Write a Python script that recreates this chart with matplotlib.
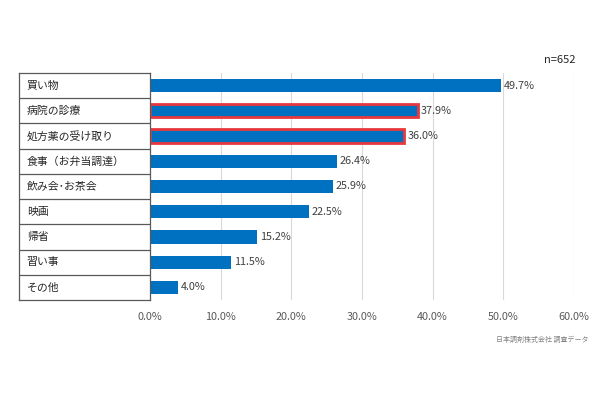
import matplotlib
matplotlib.use("Agg")
import matplotlib.pyplot as plt

plt.rcParams['font.family'] = ['Noto Sans CJK JP', 'DejaVu Sans']

# データ
categories = ['買い物', '病院の診療', '処方薬の受け取り', '食事（お弁当調達）',
              '飲み会･お茶会', '映画', '帰省', '習い事', 'その他']
values = [49.7, 37.9, 36.0, 26.4, 25.9, 22.5, 15.2, 11.5, 4.0]
highlight = [False, True, True, False, False, False, False, False, False]
xticks = [0, 10, 20, 30, 40, 50, 60]

fig = plt.figure(figsize=(6, 3.99), dpi=100)
ax = fig.add_axes([150 / 600, 1 - 300 / 399, 424 / 600, 227 / 399])
tab = fig.add_axes([19 / 600, 1 - 300 / 399, 131 / 600, 227 / 399])

n = len(categories)
ypos = list(range(n))

# 棒グラフ
for y, v, h in zip(ypos, values, highlight):
    ax.barh(y, v, height=0.52, color='#0070C0',
            edgecolor='#E8383D' if h else 'none', linewidth=2 if h else 0, zorder=3)
    ax.text(v + 0.4, y, f'{v:.1f}%', va='center', ha='left', fontsize=7.8,
            color='#404040', zorder=4)

ax.set_xlim(0, 60)
ax.set_ylim(n - 0.5, -0.5)
ax.set_xticks(xticks)
ax.set_xticklabels([f'{t:.1f}%' for t in xticks], fontsize=7.8, color='#595959')
ax.set_yticks([])
ax.tick_params(axis='x', length=0, pad=9)
for t in xticks[1:]:
    ax.axvline(t, color='#D9D9D9', linewidth=0.8, zorder=1)
for s in ax.spines.values():
    s.set_visible(False)

# 左の項目表
tab.set_xlim(0, 1)
tab.set_ylim(n - 0.5, -0.5)
tab.set_xticks([])
tab.set_yticks([])
for s in tab.spines.values():
    s.set_color('#595959')
    s.set_linewidth(0.9)
for y in ypos[:-1]:
    tab.axhline(y + 0.5, color='#595959', linewidth=0.9)
for y, c in zip(ypos, categories):
    tab.text(0.06, y, c, va='center', ha='left', fontsize=7.8, color='#262626')

fig.text(560 / 600, 1 - 60 / 399, 'n=652', ha='center', va='center',
         fontsize=8, color='#262626')
fig.text(588 / 600, 1 - 340 / 399, '日本調剤株式会社 調査データ', ha='right',
         va='center', fontsize=5, color='#808080')

fig.savefig('out.png', dpi=100)
